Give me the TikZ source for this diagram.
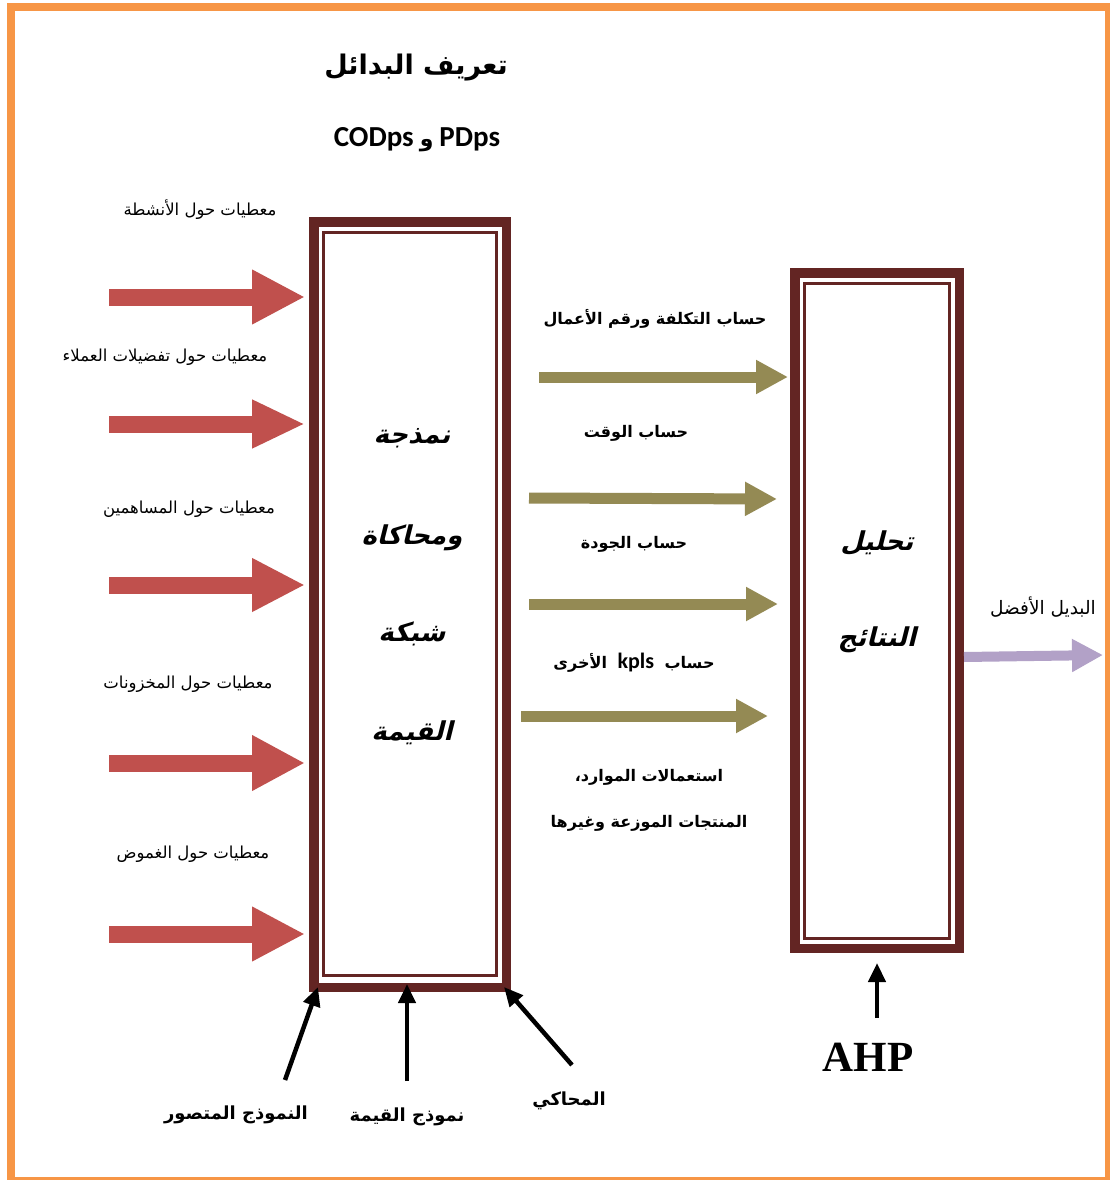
\documentclass[tikz,border=0pt]{standalone}
\usepackage{fontspec}
\usetikzlibrary{arrows.meta}
\TeXXeTstate=1
\newfontfamily\ar[Script=Arabic]{DejaVu Sans}
\newfontfamily\arsl[Script=Arabic,FakeSlant=0.25]{DejaVu Sans}
\newfontfamily\lat{Carlito}
\newfontfamily\ser{Liberation Serif}
\newcommand\fsz[1]{\fontsize{#1}{#1}\selectfont}

\definecolor{framebrown}{HTML}{632523}
\definecolor{inred}{HTML}{C0504D}
\definecolor{olivearrow}{HTML}{948A54}
\definecolor{lilac}{HTML}{B2A1C7}
\definecolor{pageorange}{HTML}{F79646}

\tikzset{
  outerframe/.style={draw=framebrown, line width=9.5pt, inner sep=0pt, outer sep=0pt},
  innerframe/.style={draw=framebrown, line width=3pt, inner sep=0pt, outer sep=0pt},
  inarrow/.style={draw=inred, line width=17pt, -{Triangle[width=#1pt,length=53pt]}},
  calcarrow/.style={draw=olivearrow, line width=11pt, -{Triangle[width=32pt,length=32pt]}},
  bestarrow/.style={draw=lilac, line width=10pt, -{Triangle[width=31pt,length=31pt]}},
  modelarrow/.style={draw=black, line width=4.5pt, -{Triangle[width=17pt,length=19pt]}},
  label/.style={inner sep=0pt, font=\ar\fsz{16.5}},
  boldlabel/.style={inner sep=0pt, font=\ar\bfseries\fsz{16}},
  boxtext/.style={inner sep=0pt, font=\arsl\bfseries\fsz{26}},
  modellabel/.style={inner sep=0pt, font=\ar\bfseries\fsz{18}},
}

\begin{document}
\begin{tikzpicture}[x=1pt,y=-1pt]
\useasboundingbox (0,0) rectangle (1110,1180);
\fill[white] (0,0) rectangle (1110,1180);

% page border
\begin{scope}
\clip (0,0) rectangle (1110,1180);
\draw[pageorange, line width=8pt] (11,7) rectangle (1109,1181);
\end{scope}

% title
\node[inner sep=0pt, font=\ar\bfseries\fsz{27}] (title) at (416,68) {\beginR تعريف البدائل\endR};
\node[inner sep=0pt] (subtitle) at (417,140) {{\lat\bfseries\fsz{29}CODps}\hspace{6pt}{\ar\bfseries\fsz{22}\beginR و\endR}\hspace{6pt}{\lat\bfseries\fsz{29}PDps}};

% value network modelling and simulation block
\node[outerframe, minimum width=192.5pt, minimum height=765.5pt] (sim) at (410,604.5) {};
\node[innerframe, minimum width=173pt, minimum height=743pt] (simin) at (410,604) {};
\node[boxtext] (s1) at (412,438) {\beginR نمذجة\endR};
\node[boxtext] (s2) at (412,538) {\beginR ومحاكاة\endR};
\node[boxtext] (s3) at (412,634) {\beginR شبكة\endR};
\node[boxtext] (s4) at (412,733) {\beginR القيمة\endR};

% results analysis block
\node[outerframe, minimum width=164.5pt, minimum height=675.5pt] (res) at (877,610.5) {};
\node[innerframe, minimum width=145pt, minimum height=655pt] (resin) at (877,611) {};
\node[boxtext] (r1) at (877,543) {\beginR تحليل\endR};
\node[boxtext] (r2) at (877,640) {\beginR النتائج\endR};

% input data
\node[label] (d1) at (200,210) {\beginR معطيات حول الأنشطة\endR};
\node[label] (d2) at (165,357) {\beginR معطيات حول تفضيلات العملاء\endR};
\node[label] (d3) at (189,509) {\beginR معطيات حول المساهمين\endR};
\node[label] (d4) at (188,684) {\beginR معطيات حول المخزونات\endR};
\node[label] (d5) at (193,854) {\beginR معطيات حول الغموض\endR};

\coordinate (a1s) at (109,297); \coordinate (a1e) at (305,297);
\coordinate (a2s) at (109,424); \coordinate (a2e) at (305,424);
\coordinate (a3s) at (109,585); \coordinate (a3e) at (305,585);
\coordinate (a4s) at (109,763); \coordinate (a4e) at (305,763);
\coordinate (a5s) at (109,934); \coordinate (a5e) at (305,934);
\draw[inarrow=51] (a1s) -- (a1e);
\draw[inarrow=45] (a2s) -- (a2e);
\draw[inarrow=50] (a3s) -- (a3e);
\draw[inarrow=52] (a4s) -- (a4e);
\draw[inarrow=51] (a5s) -- (a5e);

% computed indicators
\node[boldlabel] (c1) at (655,319) {\beginR حساب التكلفة ورقم الأعمال\endR};
\node[boldlabel] (c2) at (636,433) {\beginR حساب الوقت\endR};
\node[boldlabel] (c3) at (634,544) {\beginR حساب الجودة\endR};
\node[boldlabel] (c4) at (634,663) {\beginR حساب \beginL{\lat\fsz{22} kpls }\endL{} الأخرى\endR};
\node[boldlabel] (c5) at (649,777) {\beginR استعمالات الموارد،\endR};
\node[boldlabel] (c6) at (649,823) {\beginR المنتجات الموزعة وغيرها\endR};

\coordinate (b1s) at (539,377); \coordinate (b1e) at (788,377);
\coordinate (b2s) at (529,498); \coordinate (b2e) at (777,499);
\coordinate (b3s) at (529,604); \coordinate (b3e) at (778,604);
\coordinate (b4s) at (521,716); \coordinate (b4e) at (768,716);
\draw[calcarrow] (b1s) -- (b1e);
\draw[calcarrow] (b2s) -- (b2e);
\draw[calcarrow] (b3s) -- (b3e);
\draw[calcarrow] (b4s) -- (b4e);

% best alternative
\node[inner sep=0pt, font=\ar\fsz{18.5}] (best) at (1043,607) {\beginR البديل الأفضل\endR};
\coordinate (bestend) at (1103,655);
\draw[bestarrow] (964,657) -- (bestend);

% models feeding the simulation block
\node[modellabel] (m1) at (236,1115) {\beginR النموذج المتصور\endR};
\node[modellabel] (m2) at (407,1117) {\beginR نموذج القيمة\endR};
\node[modellabel] (m3) at (569,1101) {\beginR المحاكي\endR};
\coordinate (m1s) at (285,1080); \coordinate (m1e) at (318,987);
\coordinate (m2s) at (407,1081); \coordinate (m2e) at (407,984);
\coordinate (m3s) at (572,1065); \coordinate (m3e) at (504,987);
\draw[modelarrow] (m1s) -- (m1e);
\draw[modelarrow] (m2s) -- (m2e);
\draw[modelarrow] (m3s) -- (m3e);

% AHP
\node[inner sep=0pt, font=\ser\bfseries\fsz{43}] (ahp) at (868,1057) {AHP};
\coordinate (ahps) at (877,1018); \coordinate (ahpe) at (877,963);
\draw[modelarrow] (ahps) -- (ahpe);
\end{tikzpicture}
\end{document}
